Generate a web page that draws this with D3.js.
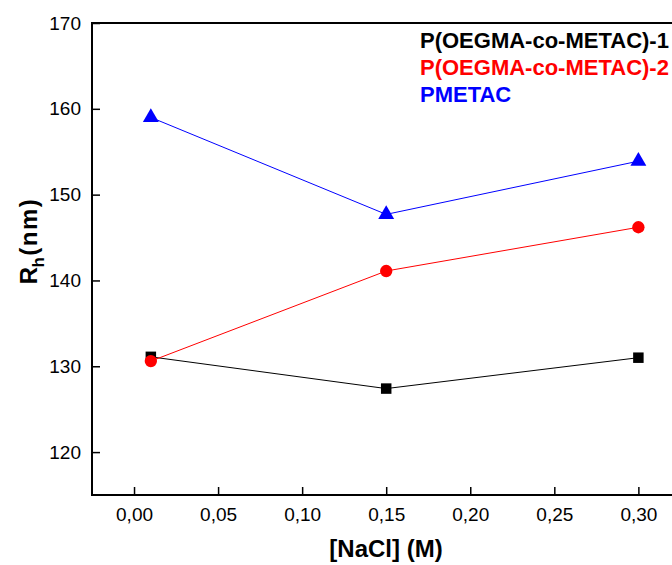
<!DOCTYPE html>
<html>
<head>
<meta charset="utf-8">
<script src="https://cdn.jsdelivr.net/npm/d3@7"></script>
<style>
  body { margin: 0; background: #fff; }
  svg { display: block; font-family: "Liberation Sans", Arial, sans-serif; }
</style>
</head>
<body>
<svg id="chart"></svg>
<script>
const nacl = [0.01, 0.15, 0.30]
const copolymer1 = [131.1, 127.4, 131.0]
const copolymer2 = [130.6, 141.1, 146.2]
const pmetac = [159.0, 147.7, 153.9]
const seriesNames = ['P(OEGMA-co-METAC)-1', 'P(OEGMA-co-METAC)-2', 'PMETAC']
const xTicks = [0, 0.05, 0.10, 0.15, 0.20, 0.25, 0.30]
const yTicks = [120, 130, 140, 150, 160, 170]

const width = 672
const height = 565
const margin = { top: 23, right: 0, bottom: 70, left: 92 }

const svg = d3.select('#chart').attr('width', width).attr('height', height)

const x = d3.scaleLinear().domain([-0.025, 0.32]).range([margin.left, width - margin.right])
const y = d3.scaleLinear().domain([115, 170]).range([height - margin.bottom, margin.top])

// frame: left, bottom, top (right side falls off the picture)
const [x0, x1] = x.range()
const [yb, yt] = y.range()
svg.append('path')
    .attr('d', `M${x1},${yt}H${x0}V${yb}H${x1}`)
    .attr('fill', 'none')
    .attr('stroke', '#000')
    .attr('stroke-width', 2)

const xAxis = svg.append('g')
    .attr('transform', `translate(0,${yb})`)
    .call(d3.axisBottom(x).tickValues(xTicks).tickSizeInner(-8).tickSizeOuter(0).tickPadding(13)
        .tickFormat(d => d3.format('.2f')(d).replace('.', ',')))
const yAxis = svg.append('g')
    .attr('transform', `translate(${x0},0)`)
    .call(d3.axisLeft(y).tickValues(yTicks).tickSizeInner(-8).tickSizeOuter(0).tickPadding(11))

for (const ax of [xAxis, yAxis]) {
    ax.select('.domain').remove()
    ax.selectAll('.tick line').attr('stroke', '#000').attr('stroke-width', 1.5)
    ax.selectAll('.tick text').attr('fill', '#000').style('font-size', '19px')
        .style('font-family', '"Liberation Sans", Arial, sans-serif')
}

const series = [
    { name: seriesNames[0], values: copolymer1, color: '#000000', shape: d3.symbolSquare, size: 110 },
    { name: seriesNames[1], values: copolymer2, color: '#ff0000', shape: d3.symbolCircle, size: 120 },
    { name: seriesNames[2], values: pmetac, color: '#0000ff', shape: d3.symbolTriangle, size: 110 }
]

const line = d3.line().x((d, i) => x(nacl[i])).y(d => y(d))

series.forEach(s => {
    svg.append('path')
        .datum(s.values)
        .attr('fill', 'none')
        .attr('stroke', s.color)
        .attr('stroke-width', 1)
        .attr('d', line)
})
series.forEach(s => {
    svg.selectAll(null)
        .data(s.values)
        .enter()
        .append('path')
        .attr('d', d3.symbol().type(s.shape).size(s.size))
        .attr('transform', (d, i) => `translate(${x(nacl[i])},${y(d)})`)
        .attr('fill', s.color)
})

// legend
const legend = svg.append('g').attr('transform', 'translate(420,48)')
series.forEach((s, i) => {
    legend.append('text')
        .attr('x', 0)
        .attr('y', i * 27)
        .attr('fill', s.color)
        .style('font-size', '22px')
        .style('font-weight', 'bold')
        .text(s.name)
})

// axis titles
svg.append('text')
    .attr('x', 386)
    .attr('y', 557)
    .attr('text-anchor', 'middle')
    .style('font-size', '24px')
    .style('font-weight', 'bold')
    .text('[NaCl] (M)')

const yTitle = svg.append('text')
    .attr('transform', 'translate(37,241) rotate(-90)')
    .attr('text-anchor', 'middle')
    .style('font-size', '24px')
    .style('font-weight', 'bold')
    .style('letter-spacing', '1.5px')
yTitle.append('tspan').text('R')
yTitle.append('tspan').attr('dy', 7).attr('dx', -2).style('font-size', '17px').text('h')
yTitle.append('tspan').attr('dy', -7).attr('dx', 0).text('(nm)')
</script>
</body>
</html>
